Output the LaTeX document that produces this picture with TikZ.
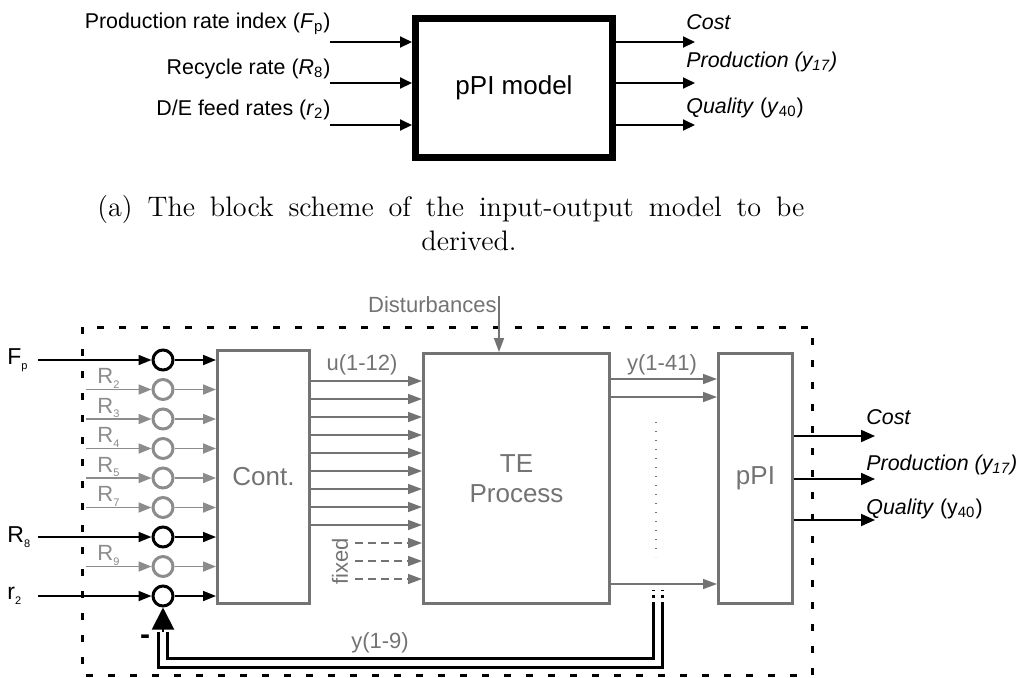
\documentclass[tikz,border=0pt]{standalone}
\usepackage{fontspec}
\setsansfont{Liberation Sans}
\usetikzlibrary{arrows.meta}
\definecolor{blockgray}{HTML}{737373}
\definecolor{feedgray}{HTML}{8C8C8C}
\newcommand{\lowsub}[1]{\raisebox{-0.4ex}{\fontsize{5.5}{6}\selectfont #1}}

\tikzset{
  toplabel/.style={font=\sffamily\fontsize{10.7}{12.8}\selectfont, inner sep=0pt},
  toparrow/.style={-{Triangle[length=6pt,width=5.5pt]}, line width=1pt},
  block/.style={draw=blockgray, line width=1.5pt, text=blockgray, align=center,
    font=\sffamily\fontsize{13}{15}\selectfont, inner sep=0pt},
  sumpt/.style={circle, line width=1.5pt, minimum size=10pt, inner sep=0pt},
  blackin/.style={-{Triangle[length=6.5pt,width=5pt]}, line width=0.9pt},
  grayin/.style={blackin, feedgray},
  uarrow/.style={-{Triangle[length=7pt,width=5pt]}, line width=0.8pt, blockgray},
  graytext/.style={font=\sffamily\fontsize{11}{13}\selectfont, text=blockgray, inner sep=0pt},
  outarrow/.style={-{Triangle[length=7pt,width=6pt]}, line width=0.9pt},
  feedback/.style={double, double distance=3pt, line width=1.5pt},
  loopbox/.style={line width=1.5pt, dash pattern=on 3.5pt off 7.5pt},
  captext/.style={font=\fontsize{14.1}{17}\selectfont, inner sep=0pt}
}

\begin{document}
\begin{tikzpicture}[x=0.5pt, y=-0.5pt]
\useasboundingbox (0,0) rectangle (1023,677);

% input-output model
\node[draw, line width=3.5pt, minimum width=98.5pt, minimum height=69.5pt,
  font=\sffamily\fontsize{13}{15}\selectfont] (model) at (514,88) {pPI model};
\foreach \y/\b/\txt [count=\i] in {42/28/{Production rate index (\textit{F}\textsubscript{p})},
    83/74/{Recycle rate (\textit{R}\textsubscript{8})}, 125/115/{D/E feed rates (\textit{r}\textsubscript{2})}} {
  \coordinate (in\i) at (330,\y);
  \draw[toparrow] (in\i) -- (in\i -| model.west);
  \node[toplabel, anchor=base east] (inlab\i) at (331,\b) {\txt};
}
\foreach \y/\b/\txt [count=\i] in {42/29/{\textit{Cost}}, 83/67/{\textit{Production (y\textsubscript{17})}},
    125/113/{\textit{Quality} (\textit{y}\textsubscript{40})}} {
  \coordinate (out\i) at (695,\y);
  \draw[toparrow] (model.east |- out\i) -- (out\i);
  \node[toplabel, anchor=base west] (outlab\i) at (686,\b) {\txt};
}
\node[captext, anchor=base west] (cap1) at (97,216)
  {\makebox[353.5pt][s]{(a) The block scheme of the input-output model to be}};
\node[captext, anchor=base] (cap2) at (469,250) {derived.};

% closed loop
\draw[loopbox] (82,327) rectangle (812,675);
\node[block, minimum width=46pt, minimum height=126.5pt] (cont) at (263.5,477) {Cont.};
\node[block, minimum width=93pt, minimum height=125pt] (te) at (516.5,478.5) {TE\\Process};
\node[block, minimum width=37pt, minimum height=125pt] (ppi) at (755.5,478.5) {pPI};

\foreach \y/\c [count=\i] in {360/black, 389.5/feedgray, 419/feedgray, 448.5/feedgray, 478/feedgray,
    507.5/feedgray, 537/black, 566.5/feedgray, 596/black}
  \node[sumpt, draw=\c] (s\i) at (163,\y) {};

% setpoints
\foreach \i/\v/\sub in {1/F/p, 7/R/8, 9/r/2} {
  \coordinate (x\i) at (s\i -| 38,0);
  \draw[blackin] (x\i) -- (s\i);
  \draw[blackin] (s\i) -- (s\i -| cont.west);
  \node[font=\sffamily\fontsize{11.5}{13}\selectfont, anchor=west, inner sep=0pt] (l\i) at (s\i -| 7,0) {\v\lowsub{\sub}};
}
\foreach \i/\k in {2/2, 3/3, 4/4, 5/5, 6/7, 8/9} {
  \coordinate (x\i) at (s\i -| 86,0);
  \draw[grayin] (x\i) -- (s\i);
  \draw[grayin] (s\i) -- (s\i -| cont.west);
  \node[font=\sffamily\fontsize{11}{13}\selectfont, text=feedgray, anchor=base west, inner sep=0pt]
    (l\i) at ([xshift=5.5pt, yshift=3pt]x\i) {R\lowsub{\k}};
}

% manipulated variables
\foreach \y in {381,399,...,525}
  \draw[uarrow] (cont.east |- 0,\y) -- (te.west |- 0,\y);
\foreach \y [count=\j] in {543,561,579} {
  \coordinate (fx\j) at (355,\y);
  \draw[uarrow, dash pattern=on 4pt off 2.5pt] (fx\j) -- (te.west |- fx\j);
}
\node[graytext, rotate=90] (fixlab) at (340,561) {fixed};
\node[graytext] (ulab) at (362,365) {u(1-12)};

\coordinate (dist) at (499,296);
\node[graytext, anchor=east] (distlab) at (497,305) {Disturbances};
\draw[uarrow] (dist) -- (dist |- te.north);

% measurements
\foreach \y in {379,397,584}
  \draw[uarrow] (te.east |- 0,\y) -- (ppi.west |- 0,\y);
\node[graytext] (ylab) at (662,365) {y(1-41)};
\coordinate (dots1) at (656,422);
\coordinate (dots2) at (656,557);
\draw[blockgray, line width=0.6pt, dash pattern=on 0.6pt off 3.9pt] (dots1) -- (dots2);

\foreach \y/\b/\txt [count=\i] in {436/424/{\textit{Cost}}, 479/470/{\textit{Production (y\textsubscript{17})}},
    520/514/{\textit{Quality} (y\textsubscript{40})}} {
  \coordinate (o\i) at (875,\y);
  \draw[outarrow] (ppi.east |- o\i) -- (o\i);
  \node[toplabel, anchor=base west] (ol\i) at (866,\b) {\txt};
}

% feedback y(1-9)
\coordinate (fbtop) at (657.5,605);
\coordinate (fbend) at (163,632);
\draw[line width=1.5pt, dash pattern=on 1.5pt off 2pt] ([xshift=-2.25pt]fbtop) -- ++(0,-15);
\draw[line width=1.5pt, dash pattern=on 1.5pt off 2pt] ([xshift=2.25pt]fbtop) -- ++(0,-15);
\draw[feedback] (fbtop) -- (fbtop |- 0,662.5) -| (fbend);
\draw[-{Triangle[length=11pt,width=11pt]}, line width=1pt] (fbend) -- (s9);
\node[font=\sffamily\bfseries\fontsize{15}{15}\selectfont, inner sep=0pt] (minus) at (145,640) {-};
\node[graytext] (fblab) at (380,643) {y(1-9)};
\end{tikzpicture}
\end{document}
